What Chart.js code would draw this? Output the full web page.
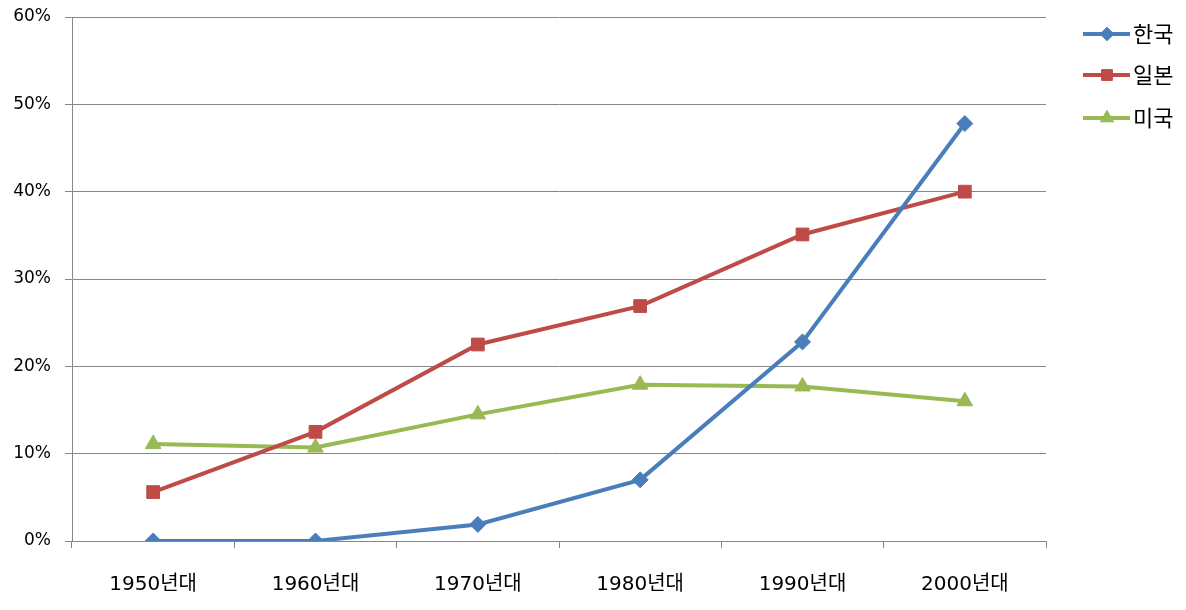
<!DOCTYPE html>
<html><head><meta charset="utf-8">
<script src="https://cdn.jsdelivr.net/npm/chart.js@4"></script>
<style>html,body{margin:0;padding:0;background:#fff}#wrap{width:1186px;height:610px}</style>
</head><body><div id="wrap"><canvas id="c" width="1186" height="610"></canvas></div>
<script>
const categories = ['1950년대','1960년대','1970년대','1980년대','1990년대','2000년대'];
const seriesNames = ['한국','일본','미국'];
const korea = [0, 0, 1.9, 7.0, 22.8, 47.8];
const japan = [5.6, 12.5, 22.5, 26.9, 35.1, 40.0];
const usa = [11.1, 10.7, 14.5, 17.9, 17.7, 16.0];
const yTicks = [0, 10, 20, 30, 40, 50, 60];

const colors = ['#4A7EBB', '#BE4B48', '#98B954'];
const styles = ['rectRot', 'rect', 'triangle'];
const radii = [8, 9, 9];
const FONT = "'DejaVu Sans', 'Noto Sans CJK KR', sans-serif";

const legendPlugin = {
  id: 'sideLegend',
  afterDraw(chart) {
    const ctx = chart.ctx;
    const ys = [34, 75, 118];
    chart.data.datasets.forEach((ds, i) => {
      const y = ys[i];
      ctx.save();
      ctx.strokeStyle = ds.borderColor;
      ctx.lineWidth = 4;
      ctx.beginPath(); ctx.moveTo(1083, y); ctx.lineTo(1130, y); ctx.stroke();
      ctx.fillStyle = ds.backgroundColor; ctx.strokeStyle = ds.borderColor; ctx.lineWidth = 1;
      Chart.helpers.drawPoint(ctx, {pointStyle: ds.pointStyle, radius: ds.pointRadius * 0.85, rotation: 0, borderWidth: 1}, 1107, y);
      ctx.fillStyle = '#000';
      ctx.font = '22px ' + FONT;
      ctx.textBaseline = 'middle';
      ctx.fillText(ds.label, 1133, y + 2);
      ctx.restore();
    });
  }
};

const data = [korea, japan, usa];
new Chart(document.getElementById('c'), {
  type: 'line',
  data: {
    labels: categories,
    datasets: data.map((d, i) => ({
      label: seriesNames[i],
      data: d,
      borderColor: colors[i],
      backgroundColor: colors[i],
      borderWidth: 4,
      pointStyle: styles[i],
      pointRadius: radii[i],
      pointHoverRadius: radii[i],
      pointBorderWidth: 1,
      tension: 0
    }))
  },
  options: {
    responsive: false,
    animation: false,
    devicePixelRatio: 1,
    layout: {padding: {top: 17, right: 140, left: 0, bottom: 0}},
    plugins: {legend: {display: false}, tooltip: {enabled: false}},
    scales: {
      x: {
        offset: true,
        grid: {offset: true, drawOnChartArea: false, drawTicks: true, tickLength: 7, color: '#868686', lineWidth: 1},
        border: {display: true, color: '#868686', width: 1},
        ticks: {color: '#000', font: {size: 20, family: FONT}, padding: 25, maxRotation: 0},
        afterFit(s) { s.height = 69; s.paddingLeft = 0; s.paddingRight = 0; }
      },
      y: {
        min: 0, max: 60,
        afterBuildTicks(s) { s.ticks = yTicks.map(v => ({value: v})); },
        grid: {color: '#868686', lineWidth: 1, tickLength: 7},
        border: {display: true, color: '#868686', width: 1},
        ticks: {color: '#000', font: {size: 17, family: FONT}, padding: 14, callback: v => v + '%'},
        afterFit(s) { s.width = 72; s.paddingTop = 0; s.paddingBottom = 0; }
      }
    }
  },
  plugins: [legendPlugin]
});
</script></body></html>
